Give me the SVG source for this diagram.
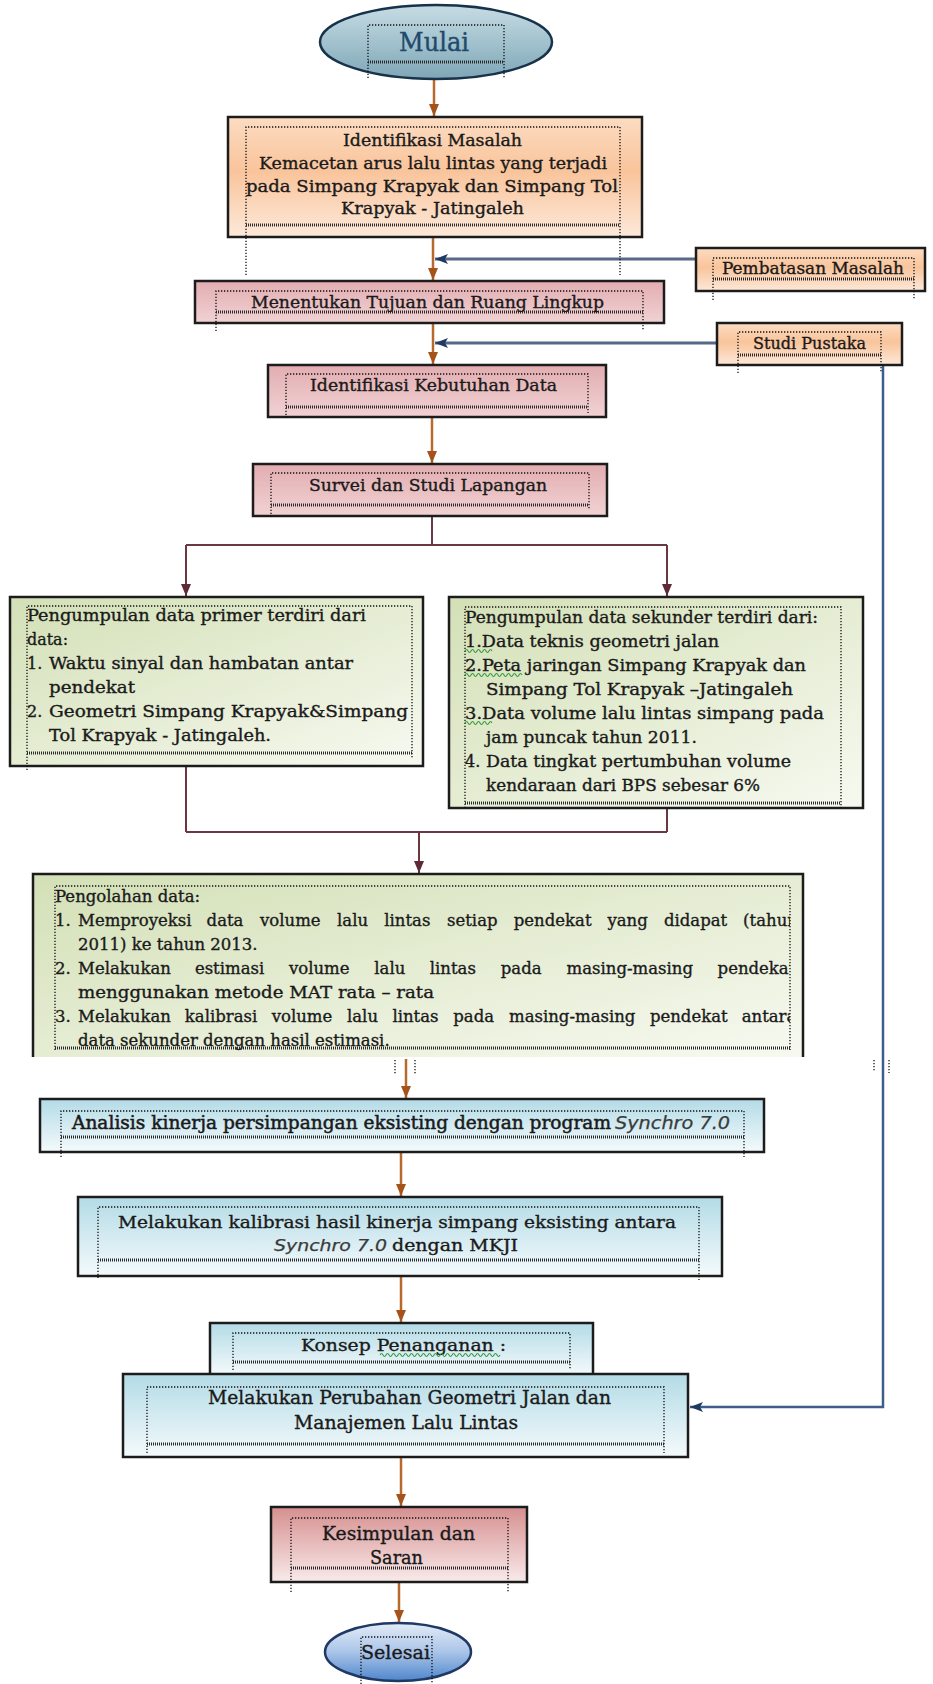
<svg xmlns="http://www.w3.org/2000/svg" width="933" height="1684" viewBox="0 0 933 1684">
<defs>
<style>
.box{stroke:#1c1c1c;stroke-width:2.5}
.t{font-family:"DejaVu Serif","Liberation Serif",serif;font-size:16px;fill:#1a1a1a;stroke:#1a1a1a;stroke-width:0.35}
.p{font-size:16.5px}
.it{font-family:"DejaVu Sans","Open Sans",sans-serif;font-style:italic;font-size:16px;fill:#3b3b3b;stroke:#3b3b3b;stroke-width:0.25}
.df{fill:none;stroke:#111;stroke-width:1.3;stroke-dasharray:1.3 1.7}
.dh{fill:none;stroke:#2a2a2a;stroke-width:3;stroke-dasharray:1 1}
.or{fill:none;stroke:#b8692c;stroke-width:2.5}
.bl{fill:none;stroke:#56698a;stroke-width:3}
.bl2{fill:none;stroke:#3f5d8a;stroke-width:2.5}
.mr{fill:none;stroke:#6b3842;stroke-width:2}
.sq{fill:none;stroke:#2f9a3a;stroke-width:1.1}
</style>
<linearGradient id="gPeach" x1="0" y1="0" x2="0" y2="1"><stop offset="0" stop-color="#fcdcc2"/><stop offset="0.45" stop-color="#f9c49b"/><stop offset="1" stop-color="#fde9da"/></linearGradient>
<linearGradient id="gPink" x1="0" y1="0" x2="0" y2="1"><stop offset="0" stop-color="#e2adb1"/><stop offset="1" stop-color="#f1d2d3"/></linearGradient>
<linearGradient id="gGreen" x1="0" y1="0" x2="1" y2="1"><stop offset="0" stop-color="#d3e0b6"/><stop offset="1" stop-color="#f7f9f0"/></linearGradient>
<linearGradient id="gBlue" x1="0" y1="0" x2="0" y2="1"><stop offset="0" stop-color="#b3dbe6"/><stop offset="1" stop-color="#f4fafc"/></linearGradient>
<linearGradient id="gRed" x1="0" y1="0" x2="0" y2="1"><stop offset="0" stop-color="#d68f8f"/><stop offset="1" stop-color="#f9eaea"/></linearGradient>
<linearGradient id="gMulai" x1="0" y1="0" x2="0" y2="1"><stop offset="0" stop-color="#c7dce4"/><stop offset="0.5" stop-color="#a2c2ce"/><stop offset="1" stop-color="#7fa6b6"/></linearGradient>
<linearGradient id="gSelesai" x1="0" y1="0" x2="0" y2="1"><stop offset="0" stop-color="#e4ecf7"/><stop offset="0.5" stop-color="#aac4e8"/><stop offset="1" stop-color="#4f86cc"/></linearGradient>
<marker id="ao" viewBox="0 0 12 10" refX="12" refY="5" markerWidth="12" markerHeight="10" markerUnits="userSpaceOnUse" orient="auto"><path d="M0 0 L12 5 L0 10 z" fill="#a5531a"/></marker>
<marker id="ab" viewBox="0 0 13 10" refX="13" refY="5" markerWidth="13" markerHeight="10" markerUnits="userSpaceOnUse" orient="auto"><path d="M0 0 L13 5 L0 10 L3 5 z" fill="#1f3a62"/></marker>
<marker id="am" viewBox="0 0 12 10" refX="12" refY="5" markerWidth="12" markerHeight="10" markerUnits="userSpaceOnUse" orient="auto"><path d="M0 0 L12 5 L0 10 z" fill="#5e2a36"/></marker>
<clipPath id="clipP"><rect x="34" y="875" width="756" height="182"/></clipPath>
</defs>

<g id="connectors">
<path class="or" d="M434 80 V116" marker-end="url(#ao)"/>
<path class="or" d="M433 237 V280" marker-end="url(#ao)"/>
<path class="or" d="M433 323 V364" marker-end="url(#ao)"/>
<path class="or" d="M432 417 V463" marker-end="url(#ao)"/>
<path class="bl" d="M696 259 H435" marker-end="url(#ab)"/>
<path class="bl" d="M717 343 H435" marker-end="url(#ab)"/>
<path class="bl2" d="M883 366 V1407 H690" marker-end="url(#ab)"/>
<path class="mr" d="M432 516 V545 M186 545 H667"/>
<path class="mr" d="M186 545 V596" marker-end="url(#am)"/>
<path class="mr" d="M667 545 V596" marker-end="url(#am)"/>
<path class="mr" d="M186 767 V832 M667 809 V832 M186 832 H667"/>
<path class="mr" d="M419 832 V873" marker-end="url(#am)"/>
<path class="or" d="M406 1059 V1098" marker-end="url(#ao)"/>
<path class="or" d="M401 1152 V1196" marker-end="url(#ao)"/>
<path class="or" d="M401 1276 V1322" marker-end="url(#ao)"/>
<path class="or" d="M401 1457 V1506" marker-end="url(#ao)"/>
<path class="or" d="M399 1582 V1622" marker-end="url(#ao)"/>
</g>

<g id="n-mulai">
<ellipse cx="436" cy="42" rx="116" ry="37" fill="url(#gMulai)" stroke="#17324a" stroke-width="2.5"/>
<path class="df" d="M368 78 V25 H504 V78"/>
<line class="dh" x1="368" y1="62" x2="504" y2="62"/>
<text class="t" x="399" y="51" style="font-size:26px;fill:#1f4a6b;stroke:#1f4a6b;stroke-width:0.4" textLength="70" lengthAdjust="spacingAndGlyphs">Mulai</text>
</g>

<g id="n-identifikasi">
<rect class="box" x="228" y="117" width="414" height="120" fill="url(#gPeach)"/>
<path class="df" d="M246 275 V127 H620 V275"/>
<line class="dh" x1="246" y1="225" x2="620" y2="225"/>
<text class="t" x="343" y="146" textLength="179" lengthAdjust="spacingAndGlyphs">Identifikasi Masalah</text>
<text class="t" x="259" y="169" textLength="348" lengthAdjust="spacingAndGlyphs">Kemacetan arus lalu lintas  yang terjadi</text>
<text class="t" x="246" y="192" textLength="372" lengthAdjust="spacingAndGlyphs">pada Simpang Krapyak dan Simpang  Tol</text>
<text class="t" x="341" y="214" textLength="183" lengthAdjust="spacingAndGlyphs">Krapyak - Jatingaleh</text>
</g>

<g id="n-pembatasan">
<rect class="box" x="696" y="248" width="229" height="43" fill="url(#gPeach)"/>
<path class="df" d="M713 300 V258 H914 V300"/>
<line class="dh" x1="713" y1="279" x2="914" y2="279"/>
<text class="t" x="722" y="274" textLength="182" lengthAdjust="spacingAndGlyphs">Pembatasan Masalah</text>
</g>

<g id="n-menentukan">
<rect class="box" x="195" y="281" width="469" height="42" fill="url(#gPink)"/>
<path class="df" d="M216 331 V291 H643 V331"/>
<line class="dh" x1="216" y1="312" x2="643" y2="312"/>
<text class="t" x="251" y="308" textLength="353" lengthAdjust="spacingAndGlyphs">Menentukan Tujuan dan Ruang Lingkup</text>
</g>

<g id="n-studi">
<rect class="box" x="717" y="323" width="185" height="42" fill="url(#gPeach)"/>
<path class="df" d="M738 373 V332 H881 V373"/>
<line class="dh" x1="738" y1="355" x2="881" y2="355"/>
<text class="t" x="753" y="349" textLength="113" lengthAdjust="spacingAndGlyphs">Studi Pustaka</text>
</g>

<g id="n-kebutuhan">
<rect class="box" x="268" y="365" width="338" height="52" fill="url(#gPink)"/>
<path class="df" d="M286 418 V374 H588 V413"/>
<line class="dh" x1="286" y1="407" x2="588" y2="407"/>
<text class="t" x="310" y="391" textLength="247" lengthAdjust="spacingAndGlyphs">Identifikasi Kebutuhan Data</text>
</g>

<g id="n-survei">
<rect class="box" x="253" y="464" width="354" height="52" fill="url(#gPink)"/>
<path class="df" d="M271 517 V473 H589 V510"/>
<line class="dh" x1="271" y1="505" x2="589" y2="505"/>
<text class="t" x="309" y="491" textLength="238" lengthAdjust="spacingAndGlyphs">Survei dan Studi  Lapangan</text>
</g>

<g id="n-primer">
<rect class="box" x="10" y="597" width="413" height="169" fill="url(#gGreen)"/>
<path class="df" d="M27 770 V606 H412 V758"/>
<line class="dh" x1="27" y1="753" x2="412" y2="753"/>
<text class="t" x="27" y="621" textLength="339" lengthAdjust="spacingAndGlyphs">Pengumpulan data primer  terdiri dari</text>
<text class="t" x="27" y="645" textLength="41" lengthAdjust="spacingAndGlyphs">data:</text>
<text class="t" x="27" y="669">1.</text>
<text class="t" x="49" y="669" textLength="304" lengthAdjust="spacingAndGlyphs">Waktu sinyal dan  hambatan antar</text>
<text class="t" x="49" y="693" textLength="86" lengthAdjust="spacingAndGlyphs">pendekat</text>
<text class="t" x="27" y="717">2.</text>
<text class="t" x="49" y="717" textLength="359" lengthAdjust="spacingAndGlyphs">Geometri Simpang  Krapyak&amp;Simpang</text>
<text class="t" x="49" y="741" textLength="222" lengthAdjust="spacingAndGlyphs">Tol Krapyak - Jatingaleh.</text>
</g>

<g id="n-sekunder">
<rect class="box" x="449" y="597" width="414" height="211" fill="url(#gGreen)"/>
<path class="df" d="M465 808 V607 H841 V808"/>
<line class="dh" x1="465" y1="803" x2="841" y2="803"/>
<text class="t" x="465" y="623" textLength="353" lengthAdjust="spacingAndGlyphs">Pengumpulan data sekunder terdiri dari:</text>
<text class="t" x="465" y="647" textLength="254" lengthAdjust="spacingAndGlyphs">1.Data teknis geometri jalan</text>
<text class="t" x="465" y="671" textLength="341" lengthAdjust="spacingAndGlyphs">2.Peta jaringan Simpang  Krapyak dan</text>
<text class="t" x="486" y="695" textLength="307" lengthAdjust="spacingAndGlyphs">Simpang  Tol Krapyak –Jatingaleh</text>
<text class="t" x="465" y="719" textLength="359" lengthAdjust="spacingAndGlyphs">3.Data volume lalu lintas simpang   pada</text>
<text class="t" x="486" y="743" textLength="211" lengthAdjust="spacingAndGlyphs">jam puncak tahun 2011.</text>
<text class="t" x="465" y="767">4.</text>
<text class="t" x="486" y="767" textLength="305" lengthAdjust="spacingAndGlyphs">Data tingkat pertumbuhan volume</text>
<text class="t" x="486" y="791" textLength="274" lengthAdjust="spacingAndGlyphs">kendaraan dari BPS sebesar 6%</text>
<path class="sq" d="M465 651 q1.5 -3 3 0 t3 0 t3 0 t3 0 t3 0 t3 0 t3 0 t3 0 t3 0"/>
<path class="sq" d="M465 675 q1.5 -3 3 0 t3 0 t3 0 t3 0 t3 0 t3 0 t3 0 t3 0 t3 0 t3 0 t3 0 t3 0 t3 0 t3 0 t3 0 t3 0 t3 0 t3 0 t3 0"/>
<path class="sq" d="M465 723 q1.5 -3 3 0 t3 0 t3 0 t3 0 t3 0 t3 0 t3 0 t3 0 t3 0"/>
</g>

<g id="n-pengolahan">
<rect x="33" y="874" width="770" height="183" fill="url(#gGreen)"/>
<path class="box" d="M33 1057 V874 H803 V1057" fill="none"/>
<path class="df" d="M55 1050 V886 H790 V1050"/>
<g clip-path="url(#clipP)">
<text class="t p" x="55" y="902">Pengolahan data:</text>
<text class="t p" y="926"><tspan x="55">1.</tspan><tspan x="78">Memproyeksi</tspan><tspan x="206.6">data</tspan><tspan x="260">volume</tspan><tspan x="337.1">lalu</tspan><tspan x="384.3">lintas</tspan><tspan x="447">setiap</tspan><tspan x="513.8">pendekat</tspan><tspan x="607.4">yang</tspan><tspan x="663.9">didapat</tspan><tspan x="743.1">(tahun</tspan></text>
<text class="t p" x="78" y="950">2011) ke tahun 2013.</text>
<text class="t p" y="974"><tspan x="55">2.</tspan><tspan x="78">Melakukan</tspan><tspan x="194.9">estimasi</tspan><tspan x="288.9">volume</tspan><tspan x="374.3">lalu</tspan><tspan x="429.8">lintas</tspan><tspan x="500.8">pada</tspan><tspan x="566.6">masing-masing</tspan><tspan x="717.6">pendekat</tspan></text>
<text class="t p" x="78" y="998" textLength="356" lengthAdjust="spacingAndGlyphs">menggunakan metode  MAT rata – rata</text>
<text class="t p" y="1022"><tspan x="55">3.</tspan><tspan x="78">Melakukan</tspan><tspan x="184.8">kalibrasi</tspan><tspan x="271.7">volume</tspan><tspan x="347">lalu</tspan><tspan x="392.4">lintas</tspan><tspan x="453.3">pada</tspan><tspan x="509">masing-masing</tspan><tspan x="649.9">pendekat</tspan><tspan x="741.7">antara</tspan></text>
<text class="t p" x="78" y="1046">data sekunder dengan hasil estimasi.</text>
</g>
<line class="dh" x1="55" y1="1048" x2="790" y2="1048"/>
<path class="df" d="M395 1060 V1075 M415 1060 V1075 M874 1060 V1071 M889 1060 V1073"/>
</g>

<g id="n-analisis">
<rect class="box" x="40" y="1099" width="724" height="53" fill="url(#gBlue)"/>
<path class="df" d="M61 1157 V1111 H744 V1157"/>
<line class="dh" x1="61" y1="1137" x2="744" y2="1137"/>
<text class="t" x="72" y="1129" style="font-size:18px;stroke-width:0.5" textLength="539" lengthAdjust="spacingAndGlyphs">Analisis kinerja persimpangan eksisting  dengan program</text>
<text class="it" x="615" y="1129" style="font-size:17px" textLength="115" lengthAdjust="spacingAndGlyphs">Synchro  7.0</text>
</g>

<g id="n-kalibrasi">
<rect class="box" x="78" y="1197" width="644" height="79" fill="url(#gBlue)"/>
<path class="df" d="M98 1278 V1207 H699 V1280"/>
<line class="dh" x1="98" y1="1260" x2="699" y2="1260"/>
<text class="t" x="118" y="1228" style="font-size:17px" textLength="558" lengthAdjust="spacingAndGlyphs">Melakukan kalibrasi hasil kinerja simpang eksisting  antara</text>
<text class="it" x="274" y="1251" textLength="113" lengthAdjust="spacingAndGlyphs">Synchro 7.0</text>
<text class="t" x="392" y="1251" style="font-size:17px" textLength="126" lengthAdjust="spacingAndGlyphs">dengan MKJI</text>
</g>

<g id="n-konsep">
<rect class="box" x="210" y="1323" width="383" height="52" fill="url(#gBlue)"/>
<path class="df" d="M233 1370 V1333 H570 V1370"/>
<line class="dh" x1="233" y1="1362" x2="570" y2="1362"/>
<text class="t" x="301" y="1351" style="font-size:17px" textLength="205" lengthAdjust="spacingAndGlyphs">Konsep Penanganan :</text>
<path class="sq" d="M380 1355 q1.5 -3 3 0 t3 0 t3 0 t3 0 t3 0 t3 0 t3 0 t3 0 t3 0 t3 0 t3 0 t3 0 t3 0 t3 0 t3 0 t3 0 t3 0 t3 0 t3 0 t3 0 t3 0 t3 0 t3 0 t3 0 t3 0 t3 0 t3 0 t3 0 t3 0 t3 0 t3 0 t3 0 t3 0 t3 0 t3 0 t3 0 t3 0 t3 0 t3 0 t3 0"/>
</g>

<g id="n-perubahan">
<rect class="box" x="123" y="1374" width="565" height="83" fill="url(#gBlue)"/>
<path class="df" d="M147 1453 V1387 H664 V1453"/>
<line class="dh" x1="147" y1="1444" x2="664" y2="1444"/>
<text class="t" x="208" y="1404" style="font-size:18px" textLength="403" lengthAdjust="spacingAndGlyphs">Melakukan Perubahan Geometri Jalan dan</text>
<text class="t" x="294" y="1429" style="font-size:18px" textLength="224" lengthAdjust="spacingAndGlyphs">Manajemen Lalu Lintas</text>
</g>

<g id="n-kesimpulan">
<rect class="box" x="271" y="1507" width="256" height="75" fill="url(#gRed)"/>
<path class="df" d="M291 1592 V1518 H508 V1592"/>
<line class="dh" x1="291" y1="1568" x2="508" y2="1568"/>
<text class="t" x="322" y="1540" style="font-size:18px" textLength="153" lengthAdjust="spacingAndGlyphs">Kesimpulan dan</text>
<text class="t" x="370" y="1564" style="font-size:18px" textLength="53" lengthAdjust="spacingAndGlyphs">Saran</text>
</g>

<g id="n-selesai">
<ellipse cx="398" cy="1652" rx="73" ry="29" fill="url(#gSelesai)" stroke="#1f3864" stroke-width="2.5"/>
<path class="df" d="M361 1684 V1637 H432 V1684"/>
<text class="t" x="361" y="1659" style="font-size:18px" textLength="69" lengthAdjust="spacingAndGlyphs">Selesai</text>
</g>
</svg>
